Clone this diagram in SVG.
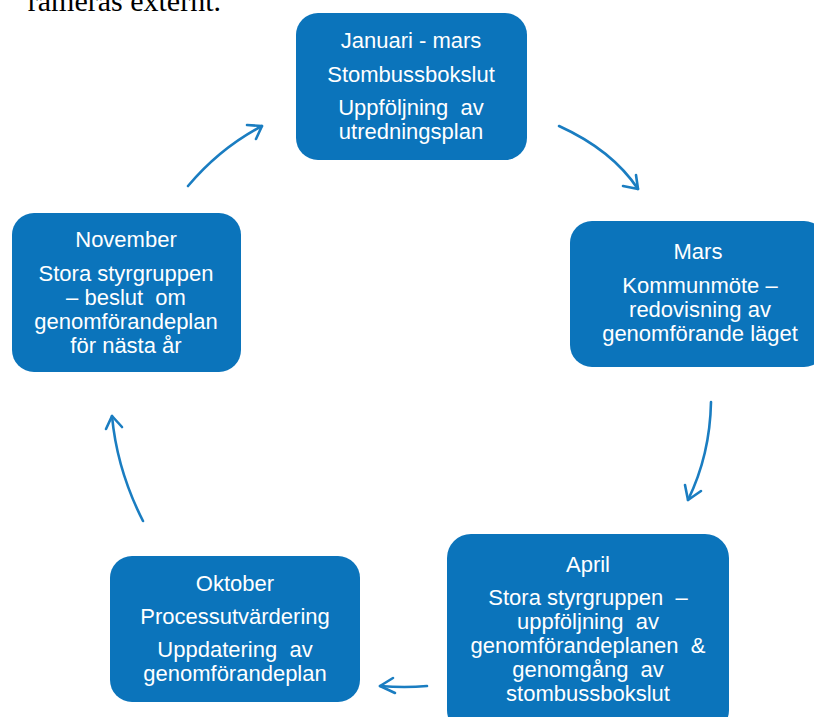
<svg xmlns="http://www.w3.org/2000/svg" width="814" height="717" viewBox="0 0 814 717">
<style>
.box{fill:#0B74BB;}
.t{font-family:"Liberation Sans",Arial,sans-serif;font-size:22px;fill:#ffffff;text-anchor:middle;white-space:pre;}
.c{fill:none;stroke:#1A7DC1;stroke-width:2.6;stroke-linecap:round;stroke-linejoin:round;}
.top{font-family:"Liberation Serif","Times New Roman",serif;font-size:30px;fill:#000000;}
</style>
<rect width="814" height="717" fill="#ffffff"/>
<text class="top" x="221" y="11" text-anchor="end">rameras externt.</text>
<g id="connectors">
<path class="c" d="M188,186 Q220,148 262,126"/>
<path class="c" d="M247,125 L262,126 L256,139"/>
<path class="c" d="M559,126 Q612,150 638,189"/>
<path class="c" d="M623,186 L638,189 L636,175"/>
<path class="c" d="M711,402 Q710,455 688,500"/>
<path class="c" d="M685,485 L688,500 L701,491"/>
<path class="c" d="M427,686 Q405,688 380,686"/>
<path class="c" d="M393,678 L380,686 L395,693"/>
<path class="c" d="M143,521 Q117,470 112,416"/>
<path class="c" d="M106,429 L112,416 L122,427"/>
</g>
<g id="node-jan">
<rect class="box" x="296" y="13" width="231" height="147" rx="22"/>
<text class="t" x="411" y="48">Januari - mars</text>
<text class="t" x="411" y="82">Stombussbokslut</text>
<text class="t" x="411" y="115">Uppföljning  av</text>
<text class="t" x="411" y="139">utredningsplan</text>
</g>
<g id="node-mars">
<rect class="box" x="570" y="221" width="256" height="146" rx="22"/>
<text class="t" x="698" y="259">Mars</text>
<text class="t" x="700" y="293">Kommunmöte –</text>
<text class="t" x="700" y="317">redovisning av</text>
<text class="t" x="700" y="341">genomförande läget</text>
</g>
<g id="node-april">
<rect class="box" x="447" y="534" width="282" height="200" rx="24"/>
<text class="t" x="588" y="572">April</text>
<text class="t" x="588" y="605">Stora styrgruppen  –</text>
<text class="t" x="588" y="629">uppföljning  av</text>
<text class="t" x="588" y="653">genomförandeplanen  &amp;</text>
<text class="t" x="588" y="677">genomgång  av</text>
<text class="t" x="588" y="701">stombussbokslut</text>
</g>
<g id="node-oktober">
<rect class="box" x="110" y="556" width="250" height="146" rx="22"/>
<text class="t" x="235" y="591">Oktober</text>
<text class="t" x="235" y="624">Processutvärdering</text>
<text class="t" x="235" y="657">Uppdatering  av</text>
<text class="t" x="235" y="681">genomförandeplan</text>
</g>
<g id="node-november">
<rect class="box" x="12" y="213" width="229" height="159" rx="22"/>
<text class="t" x="126" y="247">November</text>
<text class="t" x="126" y="281">Stora styrgruppen</text>
<text class="t" x="126" y="305">– beslut  om</text>
<text class="t" x="126" y="329">genomförandeplan</text>
<text class="t" x="126" y="353">för nästa år</text>
</g>
</svg>
